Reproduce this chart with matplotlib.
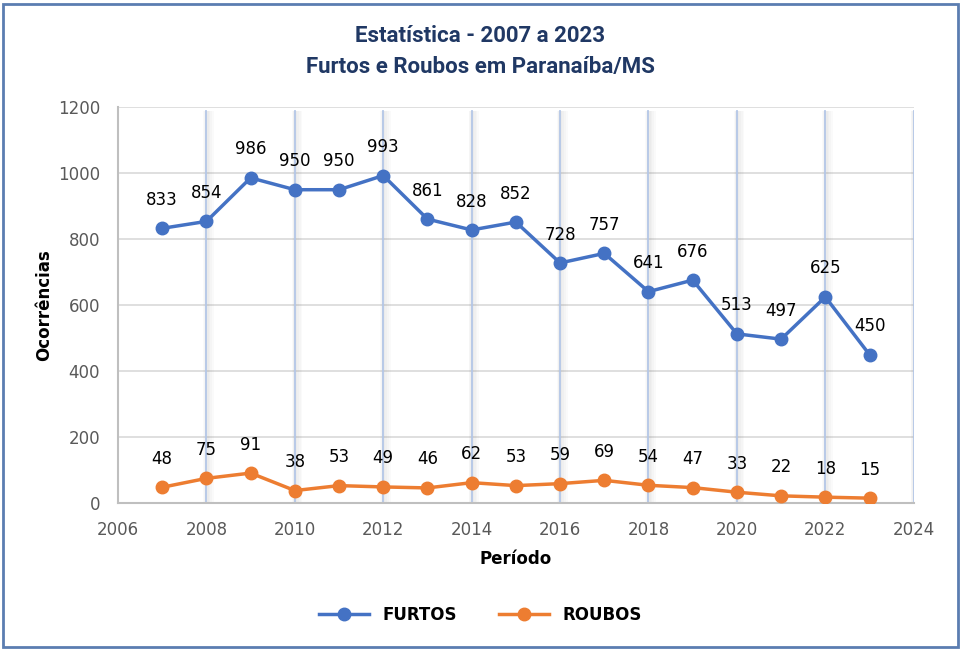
import matplotlib.pyplot as plt
from matplotlib.patches import Rectangle

anos = list(range(2007, 2024))
furtos = [833, 854, 986, 950, 950, 993, 861, 828, 852, 728, 757, 641, 676, 513, 497, 625, 450]
roubos = [48, 75, 91, 38, 53, 49, 46, 62, 53, 59, 69, 54, 47, 33, 22, 18, 15]
xticks = list(range(2006, 2025, 2))
yticks = list(range(0, 1201, 200))

azul = '#4472C4'
laranja = '#ED7D31'
cinza = '#595959'

fig = plt.figure(figsize=(9.61, 6.5), dpi=100)
ax = fig.add_axes([0.1228, 0.226, 0.828, 0.609])

# grid horizontal
for y in yticks:
    ax.axhline(y, color='#D9D9D9', lw=1.2, zorder=0)
# grid vertical com sombra difusa
largura = [0.05, 0.09, 0.13, 0.17]
for x in xticks[1:]:
    for w in largura:
        ax.axvspan(x - w * 0.4, x + w, ymin=0, ymax=0.99, color='#8C8C8C',
                   alpha=0.045, lw=0, zorder=0)
    ax.axvline(x, ymin=0, ymax=0.99, color='#B4C7E7', lw=1.3, zorder=0.5)

ax.plot(anos, furtos, color=azul, lw=2.5, marker='o', ms=9, label='FURTOS', zorder=3)
ax.plot(anos, roubos, color=laranja, lw=2.5, marker='o', ms=9, label='ROUBOS', zorder=3)

for x, y in zip(anos, furtos):
    ax.annotate(str(y), (x, y), xytext=(0, 14), textcoords='offset points',
                ha='center', va='bottom', fontsize=12, color='black')
for x, y in zip(anos, roubos):
    ax.annotate(str(y), (x, y), xytext=(0, 14), textcoords='offset points',
                ha='center', va='bottom', fontsize=12, color='black')

ax.set_xlim(2006, 2024)
ax.set_ylim(0, 1200)
ax.set_xticks(xticks)
ax.set_yticks(yticks)
ax.tick_params(length=0, labelsize=12, labelcolor=cinza, pad=13)
for s in ['top', 'right']:
    ax.spines[s].set_visible(False)
for s in ['left', 'bottom']:
    ax.spines[s].set_color('#BFBFBF')
    ax.spines[s].set_linewidth(1.5)

ax.set_xlabel('Período', fontsize=12, fontweight='bold', labelpad=8)
ax.set_ylabel('Ocorrências', fontsize=12, fontweight='bold', labelpad=3)

fig.text(0.5, 0.945, 'Estatística - 2007 a 2023', ha='center', va='center',
         fontsize=16, fontweight='bold', color='#203864', family='Roboto')
fig.text(0.5, 0.897, 'Furtos e Roubos em Paranaíba/MS', ha='center', va='center',
         fontsize=16, fontweight='bold', color='#203864', family='Roboto')

leg = fig.legend(loc='center', bbox_to_anchor=(0.5, 0.054), ncol=2, frameon=False,
                 prop={'weight': 'bold', 'size': 12}, handlelength=3, columnspacing=2.5)

fig.patches.append(Rectangle((0.003, 0.004), 0.994, 0.99, transform=fig.transFigure,
                             fill=False, edgecolor='#5B7DB1', lw=2))

fig.savefig('out.png', dpi=100)
